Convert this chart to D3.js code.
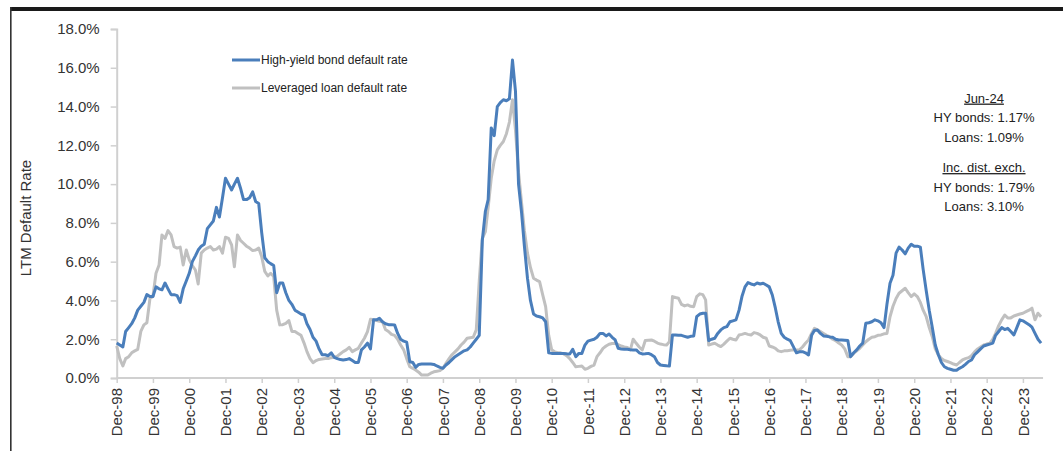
<!DOCTYPE html>
<html>
<head>
<meta charset="utf-8">
<script src="https://cdn.jsdelivr.net/npm/d3@7"></script>
<style>
  body { margin: 0; background: #fff; }
  svg { display: block; font-family: "Liberation Sans", Arial, sans-serif; }
</style>
</head>
<body>
<svg id="chart" width="1063" height="451"></svg>
<script>
// monthly LTM default rates (%), Dec-98 .. Jun-24, one row per Dec..Nov
const hyBonds = [
  1.8, 1.7, 1.6, 2.4, 2.6, 2.8, 3.1, 3.5, 3.7, 3.9, 4.3, 4.2,
  4.2, 4.7, 4.6, 4.55, 4.9, 4.6, 4.3, 4.3, 4.25, 3.9, 4.6, 5.0,
  5.4, 6.0, 6.3, 6.6, 6.8, 6.9, 7.7, 7.9, 8.1, 8.8, 8.3, 9.3,
  10.3, 10.0, 9.7, 10.0, 10.3, 9.8, 9.2, 9.2, 9.3, 9.6, 9.1, 9.0,
  7.5, 6.2, 6.0, 5.9, 5.8, 4.4, 4.9, 4.9, 4.4, 4.0, 3.8, 3.5,
  3.4, 3.3, 3.25, 2.8, 2.5, 2.1, 1.9, 1.5, 1.2, 1.2, 1.15, 1.3,
  1.07, 1.0, 0.95, 0.93, 0.95, 1.0, 0.9, 0.8, 0.8, 1.45, 1.6, 1.8,
  1.5, 3.0, 3.0, 3.08, 2.9, 2.8, 2.75, 2.75, 2.74, 2.3, 2.0, 1.9,
  1.85, 0.84, 0.8, 0.55, 0.7, 0.72, 0.72, 0.72, 0.72, 0.7, 0.62, 0.55,
  0.5, 0.67, 0.8, 0.95, 1.1, 1.2, 1.3, 1.4, 1.45, 1.6, 1.8, 2.0,
  2.2, 7.1, 8.6, 9.2, 12.9, 12.5, 14.0, 14.2, 14.35, 14.3, 14.4, 16.4,
  14.8, 10.0, 8.5, 6.8, 5.15, 4.0, 3.3, 3.2, 3.16, 3.1, 2.9, 1.3,
  1.27, 1.27, 1.27, 1.27, 1.27, 1.25, 1.24, 1.48, 1.1, 1.27, 1.27, 1.7,
  1.9, 1.95, 2.0, 2.1, 2.3, 2.3, 2.17, 2.27, 2.1, 1.96, 1.53, 1.5,
  1.48, 1.48, 1.46, 1.45, 1.45, 1.3, 1.24, 1.25, 1.27, 1.2, 1.1, 0.8,
  0.67, 0.65, 0.63, 0.62, 2.22, 2.22, 2.2, 2.2, 2.15, 2.1, 2.15, 2.17,
  3.16, 3.3, 3.34, 3.34, 1.93, 2.0, 2.05, 2.3, 2.48, 2.6, 2.65, 2.9,
  2.95, 3.0, 3.5, 4.2, 4.7, 4.92, 4.85, 4.8, 4.9, 4.85, 4.89, 4.8,
  4.7, 4.28, 3.6, 2.9, 2.3, 2.1, 2.0, 1.93, 1.62, 1.3, 1.35, 1.36,
  1.3, 1.19, 2.2, 2.45, 2.48, 2.3, 2.17, 2.15, 2.12, 2.1, 2.0, 1.96,
  1.96, 1.95, 1.93, 1.1, 1.3, 1.45, 1.65, 1.8, 2.82, 2.85, 2.9, 3.0,
  2.95, 2.85, 2.6, 3.8, 4.89, 5.3, 6.44, 6.75, 6.6, 6.4, 6.7, 6.9,
  6.8, 6.8, 6.75, 5.6, 4.5, 3.5, 2.6, 1.7, 1.2, 0.8, 0.58, 0.5,
  0.45, 0.4, 0.4, 0.5, 0.58, 0.7, 0.85, 0.93, 1.2, 1.35, 1.5, 1.65,
  1.7, 1.75, 1.8, 2.2, 2.4, 2.6, 2.5, 2.56, 2.4, 2.22, 2.6, 3.0,
  2.95, 2.85, 2.75, 2.62, 2.3, 2.0, 1.8
];
const levLoans = [
  1.65, 1.0, 0.62, 1.0, 1.1, 1.3, 1.4, 1.48, 2.4, 2.74, 2.85, 4.1,
  4.2, 5.4, 5.83, 7.38, 7.2, 7.6, 7.38, 6.78, 6.7, 6.75, 5.83, 6.6,
  6.1, 5.8, 5.57, 4.85, 6.44, 6.6, 6.7, 6.78, 6.6, 6.65, 6.78, 6.44,
  7.26, 7.2, 6.86, 5.74, 7.38, 7.1, 6.95, 6.8, 6.7, 6.57, 6.6, 6.7,
  6.26, 5.5, 5.26, 5.4, 5.23, 3.5, 2.74, 2.75, 2.82, 2.96, 2.4, 2.4,
  2.3, 2.2, 1.8, 1.36, 1.0, 0.79, 0.9, 0.96, 0.98, 1.0, 1.0, 1.05,
  1.07, 1.13, 1.25, 1.36, 1.45, 1.58, 1.36, 1.45, 1.53, 1.8, 2.05, 2.39,
  3.03, 3.0, 2.96, 2.92, 2.9, 2.5, 2.4, 2.25, 2.2, 2.0, 1.7, 1.45,
  1.0, 0.58, 0.5, 0.41, 0.3, 0.15, 0.15, 0.15, 0.25, 0.32, 0.35, 0.38,
  0.5, 0.76, 1.0, 1.2, 1.35, 1.5, 1.7, 1.85, 2.05, 2.08, 2.1, 2.48,
  5.0, 7.2, 7.55, 8.8, 10.3, 11.2, 11.77, 12.0, 12.2, 12.6, 13.2, 14.35,
  12.8, 10.6, 9.0, 7.6, 6.44, 5.7, 5.15, 5.05, 4.97, 4.3, 3.68, 2.2,
  1.45, 1.35, 1.3, 1.3, 1.24, 1.15, 1.0, 0.8, 0.58, 0.6, 0.62, 0.45,
  0.5, 0.6, 0.67, 1.1, 1.3, 1.53, 1.65, 1.74, 1.78, 1.79, 1.72, 1.65,
  1.6, 1.58, 1.45, 2.0, 1.79, 1.6, 1.45, 1.93, 1.95, 1.96, 1.9, 1.8,
  1.75, 1.72, 1.7, 1.87, 4.2, 4.15, 4.11, 3.8, 3.72, 3.77, 3.7, 3.68,
  4.2, 4.34, 4.3, 4.03, 1.7, 1.75, 1.79, 1.7, 1.62, 1.75, 1.9, 2.05,
  2.0, 1.96, 2.22, 2.25, 2.3, 2.25, 2.22, 2.34, 2.3, 2.22, 2.1, 2.05,
  1.65, 1.6, 1.53, 1.4, 1.36, 1.4, 1.41, 1.43, 1.45, 1.45, 1.45, 1.6,
  1.79, 1.96, 2.3, 2.56, 2.48, 2.4, 2.3, 2.2, 2.13, 2.0, 1.93, 1.8,
  1.7, 1.5, 1.1, 1.1, 1.27, 1.4, 1.53, 1.7, 1.87, 2.0, 2.1, 2.13,
  2.2, 2.22, 2.28, 2.3, 3.16, 3.7, 4.1, 4.37, 4.5, 4.63, 4.4, 4.2,
  4.34, 4.2, 3.9, 3.5, 3.16, 2.6, 2.13, 1.5, 1.2, 1.0, 0.9, 0.85,
  0.79, 0.72, 0.67, 0.8, 0.93, 1.0, 1.05, 1.15, 1.35, 1.5, 1.6, 1.7,
  1.75, 1.79, 2.0, 2.3, 2.7, 3.0, 3.25, 3.1, 3.1, 3.2, 3.25, 3.3,
  3.34, 3.42, 3.5, 3.6, 3.0, 3.34, 3.16
];
const yTicks = [0, 2, 4, 6, 8, 10, 12, 14, 16, 18];
const tickYears = d3.range(1998, 2024); // Dec of each year
const legendLabels = ["High-yield bond default rate", "Leveraged loan default rate"];
const noteLines = [
  { text: "Jun-24", u: true }, { text: "HY bonds: 1.17%" }, { text: "Loans: 1.09%" },
  { text: "Inc. dist. exch.", u: true, gap: true }, { text: "HY bonds: 1.79%" }, { text: "Loans: 3.10%" }
];

const blue = "#4a7ebb", grey = "#c0c0c0";
const start = new Date(1998, 11, 1);
const months = hyBonds.map((d, i) => d3.timeMonth.offset(start, i));

const svg = d3.select("#chart");

// frame
svg.append("rect").attr("x", 10).attr("y", 7).attr("width", 1053).attr("height", 4).attr("fill", "#1a1a1a");
svg.append("rect").attr("x", 10).attr("y", 7).attr("width", 1.6).attr("height", 444).attr("fill", "#333");

const x = d3.scaleTime()
  .domain([start, new Date(2023, 11, 1)])
  .range([116.7, 1022.9]);
const y = d3.scaleLinear().domain([0, 18]).range([378, 29]);

// y axis
const yAxis = svg.append("g")
  .attr("transform", "translate(116.7,0)")
  .call(d3.axisLeft(y).tickValues(yTicks).tickSize(6).tickPadding(11)
    .tickFormat(v => d3.format(".1f")(v) + "%"));
yAxis.select(".domain").attr("stroke", "#d0d0d0").attr("stroke-width", 2);
yAxis.selectAll(".tick line").attr("stroke", "#d0d0d0").attr("stroke-width", 1.5);
yAxis.selectAll("text").attr("fill", "#333").style("font-size", "15px")
  .style("font-family", "'Liberation Sans', Arial, sans-serif");

// x axis
const xAxis = svg.append("g")
  .attr("transform", "translate(0,378)")
  .call(d3.axisBottom(x).tickValues(tickYears.map(yr => new Date(yr, 11, 1)))
    .tickSize(5).tickFormat(d3.timeFormat("Dec-%y")));
xAxis.select(".domain").remove();
xAxis.append("line")
  .attr("x1", 116.7).attr("x2", x(months[months.length - 1]) + 2)
  .attr("stroke", "#d0d0d0").attr("stroke-width", 2);
xAxis.selectAll(".tick line").attr("stroke", "#d0d0d0").attr("stroke-width", 1.5);
xAxis.selectAll("text")
  .attr("fill", "#333").style("font-size", "15px")
  .style("font-family", "'Liberation Sans', Arial, sans-serif")
  .attr("text-anchor", "end")
  .attr("transform", "rotate(-90)")
  .attr("x", -10).attr("y", 0).attr("dy", "0.35em");

// y title
svg.append("text")
  .attr("transform", "translate(31,218) rotate(-90)")
  .attr("text-anchor", "middle")
  .attr("fill", "#333").style("font-size", "15px")
  .text("LTM Default Rate");

// lines
const line = d3.line().x((d, i) => x(months[i])).y(d => y(d));
svg.append("path").datum(levLoans).attr("d", line)
  .attr("fill", "none").attr("stroke", grey).attr("stroke-width", 3).attr("stroke-linejoin", "round");
svg.append("path").datum(hyBonds).attr("d", line)
  .attr("fill", "none").attr("stroke", blue).attr("stroke-width", 3).attr("stroke-linejoin", "round");

// legend
const lg = svg.append("g").selectAll("g").data(legendLabels).join("g")
  .attr("transform", (d, i) => `translate(232,${60 + i * 28})`);
lg.append("line").attr("x1", 0).attr("x2", 28)
  .attr("stroke", (d, i) => i === 0 ? blue : grey).attr("stroke-width", 3);
lg.append("text").attr("x", 29).attr("dy", "0.35em")
  .attr("fill", "#222").style("font-size", "12px").text(d => d);

// note
let ny = 98;
svg.append("g").selectAll("text").data(noteLines).join("text")
  .attr("x", 984)
  .attr("y", d => { if (d.gap) ny += 11; const v = ny; ny += 19.5; return v; })
  .attr("dy", "0.35em")
  .attr("text-anchor", "middle")
  .attr("fill", "#222").style("font-size", "13px")
  .style("text-decoration", d => d.u ? "underline" : null)
  .text(d => d.text);
</script>
</body>
</html>
